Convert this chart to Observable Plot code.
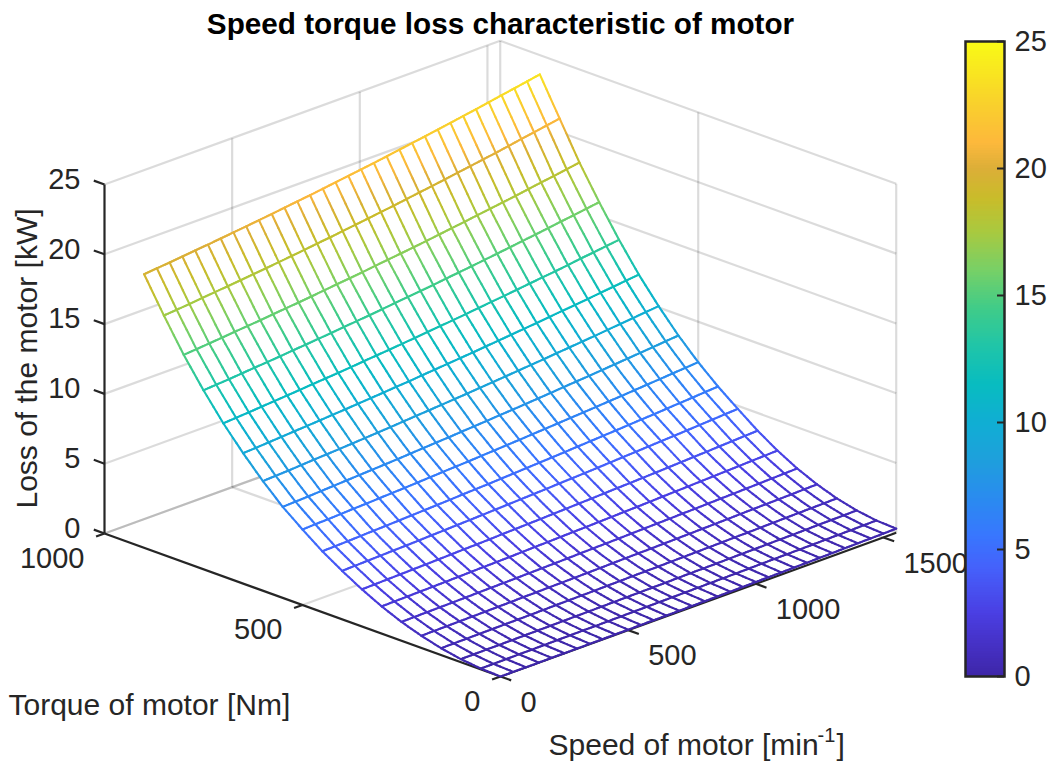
<!DOCTYPE html>
<html>
<head>
<meta charset="utf-8">
<script src="https://cdn.jsdelivr.net/npm/d3@7"></script>
<script src="https://cdn.jsdelivr.net/npm/@observablehq/plot@0.6"></script>
<style>
html,body{margin:0;padding:0;background:#fff;}
#chart{position:relative;width:1053px;height:761px;overflow:hidden;}
#chart svg{position:absolute;top:0;left:0;background:transparent;overflow:visible;}
</style>
</head>
<body>
<div id="chart"></div>
<script>
const titleText = "Speed torque loss characteristic of motor";
const speeds = [0,50,100,150,200,250,300,350,400,450,500,550,600,650,700,750,800,850,900,950,1000,1050,1100,1150,1200,1250,1300,1350,1400,1450,1500,1550];
const torques = [0,50,100,150,200,250,300,350,400,450,500,550,600,650,700,750,800,850,900];
const lossT0 = [0,0,0,0,.01,.01,.01,.02,.02,.03,.03,.04,.05,.05,.06,.07,.08,.09,.10,.11,.13,.14,.15,.17,.18,.20,.21,.23,.25,.26,.28,.30];
const lossT50 = [.06,.06,.07,.08,.08,.09,.10,.11,.12,.12,.13,.14,.15,.16,.17,.18,.19,.20,.21,.22,.23,.24,.26,.27,.28,.29,.30,.32,.33,.34,.36,.37];
const lossT100 = [.22,.23,.24,.24,.25,.26,.27,.28,.29,.30,.31,.32,.33,.34,.35,.36,.37,.39,.40,.41,.42,.44,.45,.46,.48,.49,.50,.52,.54,.55,.56,.58];
const lossT150 = [.49,.50,.51,.52,.53,.54,.55,.56,.57,.59,.60,.61,.62,.64,.65,.67,.68,.69,.71,.72,.74,.75,.77,.79,.80,.82,.84,.86,.88,.89,.91,.93];
const lossT200 = [.87,.88,.89,.91,.92,.93,.95,.96,.98,.99,1.01,1.02,1.04,1.05,1.07,1.09,1.11,1.13,1.14,1.16,1.18,1.20,1.22,1.24,1.26,1.29,1.31,1.33,1.35,1.37,1.40,1.42];
const lossT250 = [1.35,1.37,1.38,1.40,1.41,1.43,1.45,1.47,1.48,1.50,1.52,1.54,1.56,1.58,1.61,1.63,1.65,1.67,1.70,1.72,1.75,1.77,1.80,1.82,1.85,1.88,1.90,1.93,1.96,1.99,2.02,2.05];
const lossT300 = [1.95,1.97,1.99,2.01,2.03,2.05,2.07,2.10,2.12,2.14,2.16,2.19,2.22,2.24,2.27,2.30,2.32,2.35,2.38,2.41,2.44,2.47,2.51,2.54,2.57,2.61,2.64,2.68,2.71,2.75,2.78,2.82];
const lossT350 = [2.66,2.68,2.71,2.73,2.76,2.78,2.81,2.84,2.87,2.89,2.92,2.96,2.99,3.02,3.05,3.09,3.12,3.16,3.19,3.23,3.27,3.30,3.34,3.38,3.42,3.47,3.51,3.55,3.60,3.64,3.69,3.73];
const lossT400 = [3.47,3.50,3.53,3.56,3.59,3.62,3.65,3.69,3.72,3.76,3.79,3.83,3.87,3.91,3.95,3.99,4.03,4.08,4.12,4.16,4.21,4.26,4.31,4.36,4.41,4.46,4.51,4.56,4.62,4.67,4.73,4.78];
const lossT450 = [4.36,4.39,4.42,4.46,4.50,4.53,4.57,4.61,4.65,4.69,4.73,4.78,4.82,4.86,4.91,4.96,5.01,5.06,5.11,5.16,5.22,5.27,5.33,5.38,5.44,5.50,5.55,5.62,5.68,5.74,5.81,5.87];
const lossT500 = [5.41,5.45,5.48,5.52,5.57,5.60,5.65,5.69,5.73,5.78,5.83,5.88,5.93,5.97,6.03,6.08,6.14,6.19,6.25,6.31,6.37,6.43,6.49,6.55,6.62,6.68,6.75,6.82,6.89,6.96,7.03,7.10];
const lossT550 = [6.52,6.56,6.60,6.65,6.70,6.75,6.80,6.85,6.90,6.95,7.01,7.07,7.13,7.18,7.25,7.31,7.37,7.44,7.50,7.57,7.64,7.71,7.79,7.86,7.93,8.01,8.09,8.17,8.25,8.33,8.42,8.50];
const lossT600 = [7.85,7.90,7.94,8.00,8.06,8.11,8.16,8.22,8.28,8.34,8.40,8.47,8.54,8.60,8.67,8.74,8.81,8.89,8.96,9.04,9.12,9.20,9.28,9.37,9.45,9.54,9.62,9.72,9.81,9.90,10.00,10.09];
const lossT650 = [9.34,9.39,9.45,9.51,9.57,9.63,9.69,9.76,9.82,9.89,9.96,10.03,10.11,10.17,10.26,10.34,10.42,10.50,10.58,10.67,10.76,10.85,10.94,11.03,11.13,11.23,11.32,11.42,11.53,11.63,11.74,11.84];
const lossT700 = [10.97,11.03,11.09,11.16,11.23,11.30,11.37,11.45,11.52,11.59,11.67,11.76,11.84,11.92,12.01,12.10,12.20,12.29,12.38,12.48,12.59,12.69,12.79,12.90,13.01,13.12,13.22,13.34,13.47,13.58,13.70,13.82];
const lossT750 = [12.82,12.89,12.95,13.03,13.11,13.18,13.26,13.35,13.43,13.52,13.60,13.70,13.79,13.88,13.98,14.09,14.19,14.29,14.39,14.51,14.62,14.73,14.85,14.97,15.09,15.22,15.34,15.47,15.61,15.73,15.87,16.00];
const lossT800 = [14.85,14.92,15.00,15.08,15.17,15.25,15.33,15.43,15.52,15.61,15.71,15.81,15.92,16.01,16.12,16.24,16.35,16.46,16.57,16.69,16.82,16.95,17.07,17.21,17.34,17.47,17.60,17.75,17.90,18.03,18.18,18.33];
const lossT850 = [17.15,17.23,17.31,17.41,17.50,17.59,17.68,17.79,17.88,17.99,18.09,18.20,18.32,18.42,18.55,18.67,18.79,18.92,19.04,19.18,19.32,19.45,19.59,19.74,19.88,20.03,20.17,20.33,20.50,20.65,20.81,20.97];
const lossT900 = [19.60,19.69,19.77,19.87,19.97,20.06,20.16,20.27,20.37,20.48,20.59,20.71,20.83,20.94,21.07,21.20,21.33,21.46,21.59,21.73,21.88,22.02,22.17,22.32,22.47,22.63,22.78,22.95,23.12,23.28,23.45,23.62];
const lossRows = [lossT0,lossT50,lossT100,lossT150,lossT200,lossT250,lossT300,lossT350,lossT400,lossT450,lossT500,lossT550,lossT600,lossT650,lossT700,lossT750,lossT800,lossT850,lossT900];

const speedTicks = [0,500,1000,1500];
const torqueTicks = [0,500,1000];
const lossTicks = [0,5,10,15,20,25];
const speedMax = 1550, torqueMax = 1000, lossMax = 25;

// colour map
const cStops = [0,1.2,2.5,4.2,5.5,7,8.5,10,11.5,13,14.5,16,17.5,18.8,20,21,22.5,25];
const cColors = ["#3e26a8","#4530c4","#4a3fe3","#4560fb","#3876fe","#2a8bf0","#1e9fdc","#10aed3","#08bcc0","#20c5a8","#40cc88","#78d066","#a9c93f","#c9bc2a","#dcae38","#fdb83c","#f9d02c","#f9fb15"];
const colorScale = {type:"linear", domain:cStops, range:cColors, clamp:true};

// fixed orthographic view of the 3-D box
const X = (s,t) => 500 + 0.2553*s - 0.396*t;
const Y = (s,t,z) => 676 - 0.0927*s - 0.143*t - 13.96*z;
const seg = (a,b,extra={}) => ({x1:X(a[0],a[1]),y1:Y(a[0],a[1],a[2]),x2:X(b[0],b[1]),y2:Y(b[0],b[1],b[2]),...extra});
const pt = (p,label) => ({x:X(p[0],p[1]),y:Y(p[0],p[1],p[2]),label});

// background grid on floor and two back walls
const grid = [];
lossTicks.forEach(z => {
  grid.push(seg([0,torqueMax,z],[speedMax,torqueMax,z]));
  grid.push(seg([speedMax,torqueMax,z],[speedMax,0,z]));
});
speedTicks.filter(s=>s>0).forEach(s => {
  grid.push(seg([s,0,0],[s,torqueMax,0]));
  grid.push(seg([s,torqueMax,0],[s,torqueMax,lossMax]));
});
torqueTicks.forEach(t => {
  if (t>0) grid.push(seg([0,t,0],[speedMax,t,0]));
  grid.push(seg([speedMax,t,0],[speedMax,t,lossMax]));
});

// axes
const axes = [
  seg([0,0,0],[0,torqueMax,0]),
  seg([0,0,0],[speedMax,0,0]),
  seg([0,torqueMax,0],[0,torqueMax,lossMax]),
  ...speedTicks.map(s=>seg([s,0,0],[s,-27,0])),
  ...torqueTicks.map(t=>seg([0,t,0],[-33,t,0])),
  ...lossTicks.map(z=>seg([0,torqueMax,z],[0,torqueMax+27,z]))
];

// mesh edges; each is drawn in short pieces so its colour runs smoothly between grid values
const pieces = 6;
const mesh = [];
function addEdge(a,b){
  for(let k=0;k<pieces;k++){
    const f=k/pieces, g=(k+1)/pieces;
    const p=[a[0]+(b[0]-a[0])*f,a[1]+(b[1]-a[1])*f,a[2]+(b[2]-a[2])*f];
    const q=[a[0]+(b[0]-a[0])*g,a[1]+(b[1]-a[1])*g,a[2]+(b[2]-a[2])*g];
    mesh.push(seg(p,q,{loss:(p[2]+q[2])/2}));
  }
}
torques.forEach((t,r)=>speeds.forEach((s,c)=>{
  const v=[s,t,lossRows[r][c]];
  if(c+1<speeds.length) addEdge(v,[speeds[c+1],t,lossRows[r][c+1]]);
  if(r+1<torques.length) addEdge(v,[s,torques[r+1],lossRows[r+1][c]]);
}));

// white face of the mesh hides the grid behind it
const nR=torques.length-1, nC=speeds.length-1;
const outline = [
  ...speeds.map((s,c)=>pt([s,torques[0],lossRows[0][c]])),
  ...torques.map((t,r)=>pt([speeds[nC],t,lossRows[r][nC]])),
  ...speeds.map((s,c)=>pt([s,torques[nR],lossRows[nR][c]])).reverse(),
  ...torques.map((t,r)=>pt([speeds[0],t,lossRows[r][0]])).reverse()
];

const ink = "#262626";
const font = "Liberation Sans, Arial, Helvetica, sans-serif";
const tickFont = 29;
const labelFont = 30;
const L = (d,o) => Plot.link(d,{x1:"x1",y1:"y1",x2:"x2",y2:"y2",...o});

const main = Plot.plot({
  width:1053, height:761, margin:0,
  style:{fontFamily:font, background:"transparent"},
  x:{domain:[0,1053],range:[0,1053],axis:null},
  y:{domain:[0,761],range:[0,761],axis:null},
  color:colorScale,
  marks:[
    L(grid,{stroke:"#000",strokeOpacity:0.14,strokeWidth:2.2}),
    L(axes,{stroke:ink,strokeWidth:2.2}),
    Plot.line(outline,{x:"x",y:"y",fill:"white",stroke:"none"}),
    L(mesh,{stroke:"loss",strokeWidth:2.1,strokeLinecap:"round"}),
    Plot.text(speedTicks.map(s=>pt([s,0,0],String(s))),{x:"x",y:"y",text:"label",textAnchor:"start",dx:20,dy:26,fontSize:tickFont,fill:ink}),
    Plot.text(torqueTicks.map(t=>pt([0,t,0],String(t))),{x:"x",y:"y",text:"label",textAnchor:"end",dx:-20,dy:25,fontSize:tickFont,fill:ink}),
    Plot.text(lossTicks.map(z=>pt([0,torqueMax,z],String(z))),{x:"x",y:"y",text:"label",textAnchor:"end",dx:-24,dy:-5,fontSize:tickFont,fill:ink}),
    Plot.text([titleText],{x:()=>500,y:()=>24,text:d=>d,fontSize:29.7,fontWeight:"bold",fill:"#000"}),
    Plot.text(["Torque of motor [Nm]"],{x:()=>8,y:()=>705,text:d=>d,textAnchor:"start",fontSize:labelFont,fill:ink}),
    Plot.text(["Loss of the motor [kW]"],{x:()=>27,y:()=>358,text:d=>d,rotate:-90,fontSize:labelFont,fill:ink}),
    Plot.text(["Speed of motor [min"],{x:()=>548,y:()=>745,text:d=>d,textAnchor:"start",fontSize:labelFont,fill:ink}),
    Plot.text(["-1"],{x:()=>817,y:()=>735,text:d=>d,textAnchor:"start",fontSize:20,fill:ink}),
    Plot.text(["]"],{x:()=>836,y:()=>745,text:d=>d,textAnchor:"start",fontSize:labelFont,fill:ink})
  ]
});

// colour bar
const barLevels = d3.range(0,25,0.1);
const bar = Plot.plot({
  width:88, height:761,
  marginLeft:0, marginRight:49, marginTop:41, marginBottom:85,
  style:{fontFamily:font, background:"transparent"},
  x:{domain:[0,1],axis:null},
  y:{domain:[0,25],axis:null},
  color:colorScale,
  marks:[
    Plot.rect(barLevels,{x1:()=>0,x2:()=>1,y1:d=>d,y2:d=>d+0.1,fill:d=>d+0.05,shapeRendering:"crispEdges"}),
    Plot.ruleY(lossTicks,{x1:()=>0.82,x2:()=>1,stroke:ink,strokeWidth:2}),
    Plot.frame({stroke:ink,strokeWidth:2.5}),
    Plot.axisY(lossTicks,{anchor:"right",tickSize:0,tickPadding:10,fontSize:tickFont,color:ink,label:null})
  ]
});
bar.style.left = "965px";

const host = document.getElementById("chart");
host.append(main, bar);
</script>
</body>
</html>
